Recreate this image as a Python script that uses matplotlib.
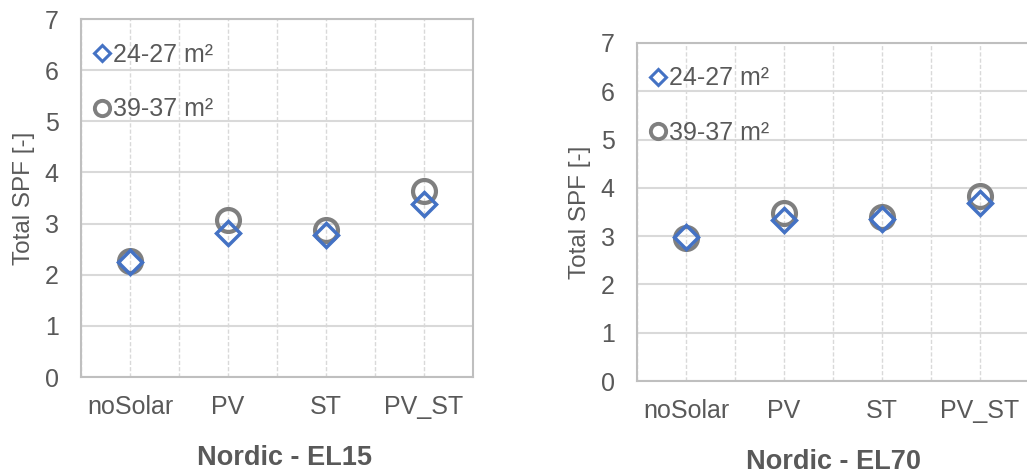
import matplotlib
matplotlib.use("Agg")
import matplotlib.pyplot as plt
from matplotlib.lines import Line2D

plt.rcParams['font.family'] = ['Liberation Sans', 'DejaVu Sans']

categories = ['noSolar', 'PV', 'ST', 'PV_ST']
series_names = ['24-27 m²', '39-37 m²']

# Nordic - EL15
el15_small = [2.25, 2.82, 2.78, 3.39]
el15_large = [2.27, 3.07, 2.88, 3.64]

# Nordic - EL70
el70_small = [2.98, 3.33, 3.35, 3.68]
el70_large = [2.97, 3.48, 3.40, 3.83]

BLUE = '#4472C4'
GREY = '#7F7F7F'
TXT = '#595959'

fig = plt.figure(figsize=(10.27, 4.74), dpi=100)
ax1 = fig.add_axes([0.0789, 0.2046, 0.3817, 0.7553])
ax2 = fig.add_axes([0.6203, 0.1962, 0.3817, 0.7131])


def draw_panel(ax, small, large, title, title_x=0.5):
    x = range(1, len(categories) + 1)
    ax.plot(x, large, linestyle='none', marker='o', markersize=16.5,
            markerfacecolor='none', markeredgecolor=GREY, markeredgewidth=3, zorder=3)
    ax.plot(x, small, linestyle='none', marker='D', markersize=12.5,
            markerfacecolor='none', markeredgecolor=BLUE, markeredgewidth=2.5, zorder=4)

    ax.set_xlim(0.5, 4.5)
    ax.set_ylim(0, 7)
    ax.set_yticks(range(0, 8))
    ax.set_xticks(list(x))
    ax.set_xticklabels(categories)
    ax.set_xticks([0.5 + i for i in range(5)], minor=True)

    ax.grid(axis='y', which='major', color='#D9D9D9', linewidth=1.5, linestyle='-')
    ax.grid(axis='x', which='both', color='#D9D9D9', linewidth=1.0, linestyle=(0, (3, 1.5)))
    ax.set_axisbelow(True)
    for s in ax.spines.values():
        s.set_color('#BFBFBF')
        s.set_linewidth(1.5)

    ax.tick_params(axis='both', which='both', length=0, labelsize=18, labelcolor=TXT)
    ax.tick_params(axis='x', pad=13)
    ax.tick_params(axis='y', pad=16)
    ax.set_ylabel('Total SPF [-]', fontsize=17.5, color=TXT, labelpad=7)
    ax.set_xlabel(title, fontsize=19.5, color=TXT, fontweight='bold', labelpad=19, x=title_x)

    handles = [
        Line2D([], [], linestyle='none', marker='D', markersize=8.5, markerfacecolor='none',
               markeredgecolor=BLUE, markeredgewidth=2.2),
        Line2D([], [], linestyle='none', marker='o', markersize=11, markerfacecolor='none',
               markeredgecolor=GREY, markeredgewidth=2.8),
    ]
    ax.legend(handles, series_names, loc='upper left', bbox_to_anchor=(-0.008, 0.975),
              frameon=False, fontsize=18, labelcolor=TXT, handlelength=0.7,
              handletextpad=0.12, labelspacing=1.22, borderaxespad=0.2)


draw_panel(ax1, el15_small, el15_large, 'Nordic - EL15', title_x=0.52)
draw_panel(ax2, el70_small, el70_large, 'Nordic - EL70')

fig.savefig('out.png', dpi=100)
